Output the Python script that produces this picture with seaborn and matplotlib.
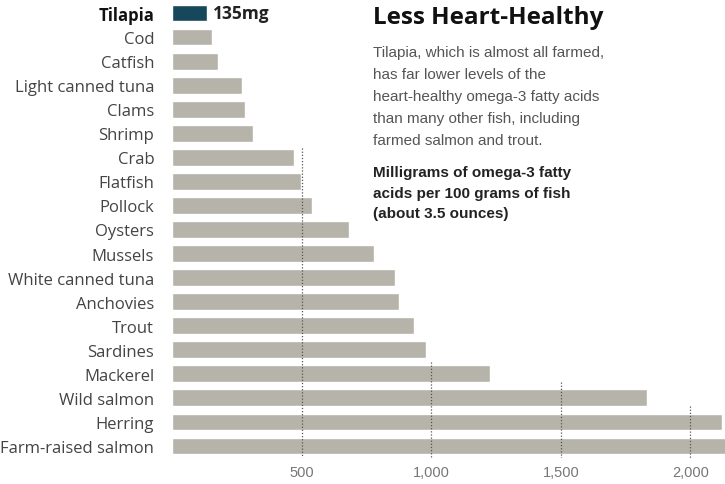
import matplotlib
matplotlib.use("Agg")
import matplotlib.pyplot as plt
import seaborn as sns
import pandas as pd

fish = ["Tilapia", "Cod", "Catfish", "Light canned tuna", "Clams", "Shrimp",
        "Crab", "Flatfish", "Pollock", "Oysters", "Mussels",
        "White canned tuna", "Anchovies", "Trout", "Sardines", "Mackerel",
        "Wild salmon", "Herring", "Farm-raised salmon"]
omega3_mg = [135, 155, 178, 271, 282, 313, 471, 497, 539, 684, 779,
             860, 876, 934, 980, 1227, 1834, 2122, 2150]
tick_values = [500, 1000, 1500, 2000]
tick_labels = ["500", "1,000", "1,500", "2,000"]

title = "Less Heart-Healthy"
blurb = ("Tilapia, which is almost all farmed,\n"
         "has far lower levels of the\n"
         "heart-healthy omega-3 fatty acids\n"
         "than many other fish, including\n"
         "farmed salmon and trout.")
units_note = ("Milligrams of omega-3 fatty\n"
              "acids per 100 grams of fish\n"
              "(about 3.5 ounces)")

sns.set_theme(style="white")
plt.rcParams["font.family"] = ["Liberation Sans", "DejaVu Sans"]
wide = ["Open Sans", "DejaVu Sans"]

W, H = 725, 485
fig = plt.figure(figsize=(W / 100, H / 100), dpi=100)
ax = fig.add_axes([172.2 / W, 1 - 459 / H, 1 - 172.2 / W, (459 - 2) / H])

df = pd.DataFrame({"fish": fish, "mg": omega3_mg})
highlight = "#17475a"
gray = "#b6b3aa"
palette = {f: (highlight if f == "Tilapia" else gray) for f in fish}
sns.barplot(data=df, x="mg", y="fish", hue="fish", palette=palette,
            legend=False, width=0.7, saturation=1, ax=ax, zorder=2)

ax.set_xlim(0, 2134)
ax.set_ylim(len(fish) - 0.5, -0.5)

# dotted reference lines, each starting just above the bars that reach it
line_start = {500: 5.6, 1000: 14.5, 1500: 15.35, 2000: 16.33}
for t in tick_values:
    ax.vlines(t, line_start[t], len(fish) - 0.5, colors="#555555",
              linestyles=(0, (1, 1.5)), linewidth=0.9, zorder=3)

for s in ax.spines.values():
    s.set_visible(False)
ax.set_xlabel("")
ax.set_ylabel("")
ax.set_xticks(tick_values)
ax.set_xticklabels(tick_labels, color="#777777", fontsize=10.5)
ax.tick_params(axis="x", length=0, pad=5)
ax.tick_params(axis="y", length=0, pad=13)
ax.set_yticks(range(len(fish)))
ax.set_yticklabels(fish, fontsize=12.0, color="#444444", family=wide)
for lab in ax.get_yticklabels():
    if lab.get_text() == "Tilapia":
        lab.set_fontweight("bold")
        lab.set_color("#111111")

ax.text(omega3_mg[0] + 22, 0, f"{omega3_mg[0]}mg", va="center", ha="left",
        fontsize=12.5, fontweight="bold", color="#222222", family=wide)

fig.text(373 / W, 1 - 18 / H, title, fontsize=17.5, fontweight="bold",
         color="#111111", va="center", ha="left", family=wide)
fig.text(373 / W, 1 - 46 / H, blurb, fontsize=11, color="#555555",
         va="top", ha="left", linespacing=1.72)
fig.text(373 / W, 1 - 166 / H, units_note, fontsize=11, fontweight="bold",
         color="#222222", va="top", ha="left", linespacing=1.6)

fig.savefig("out.png", dpi=100)
